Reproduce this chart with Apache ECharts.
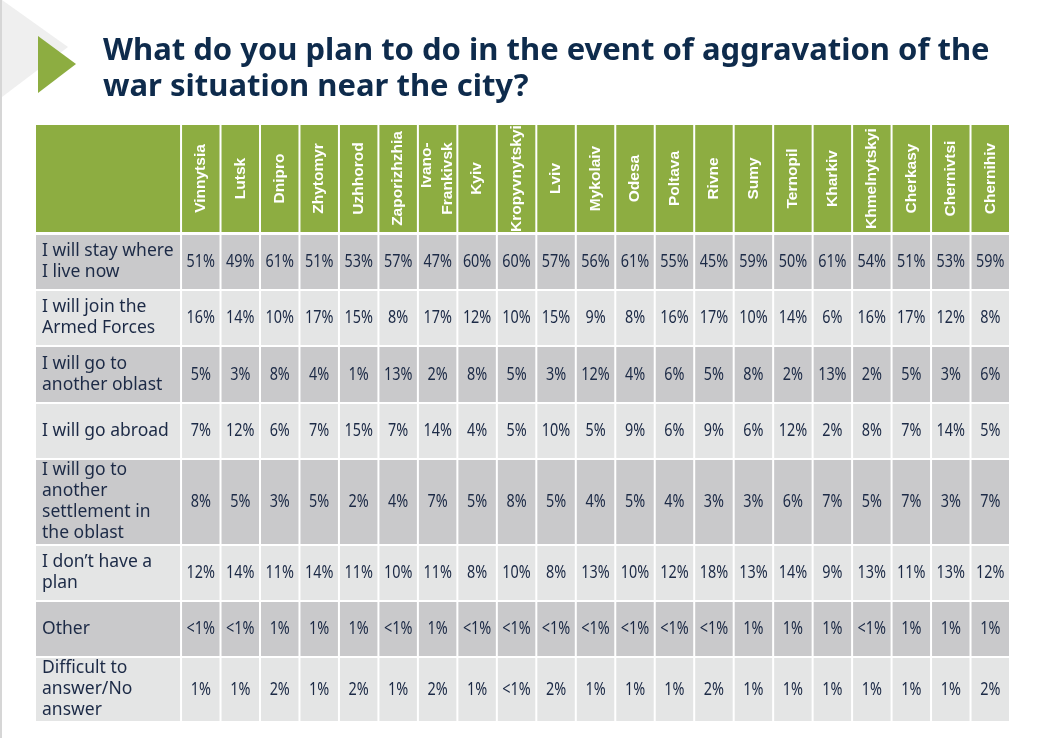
<!DOCTYPE html>
<html>
<head>
<meta charset="utf-8">
<script src="https://cdn.jsdelivr.net/npm/echarts@6/dist/echarts.min.js"></script>
<style>
html, body { margin: 0; padding: 0; background: #fff; }
#chart { width: 1052px; height: 738px; }
</style>
</head>
<body>
<div id="chart"></div>
<script>
var cities = ['Vinnytsia', 'Lutsk', 'Dnipro', 'Zhytomyr', 'Uzhhorod', 'Zaporizhzhia', 'Ivano-\nFrankivsk', 'Kyiv',
	'Kropyvnytskyi', 'Lviv', 'Mykolaiv', 'Odesa', 'Poltava', 'Rivne', 'Sumy', 'Ternopil', 'Kharkiv',
	'Khmelnytskyi', 'Cherkasy', 'Chernivtsi', 'Chernihiv'];
var answers = ['I will stay where\nI live now', 'I will join the\nArmed Forces', 'I will go to\nanother oblast',
	'I will go abroad', 'I will go to\nanother\nsettlement in\nthe oblast', 'I don\u2019t have a\nplan', 'Other',
	'Difficult to\nanswer/No\nanswer'];

// percentages per answer, one value per city
var stay = [51, 49, 61, 51, 53, 57, 47, 60, 60, 57, 56, 61, 55, 45, 59, 50, 61, 54, 51, 53, 59];
var joinArmy = [16, 14, 10, 17, 15, 8, 17, 12, 10, 15, 9, 8, 16, 17, 10, 14, 6, 16, 17, 12, 8];
var otherOblast = [5, 3, 8, 4, 1, 13, 2, 8, 5, 3, 12, 4, 6, 5, 8, 2, 13, 2, 5, 3, 6];
var abroad = [7, 12, 6, 7, 15, 7, 14, 4, 5, 10, 5, 9, 6, 9, 6, 12, 2, 8, 7, 14, 5];
var otherSettlement = [8, 5, 3, 5, 2, 4, 7, 5, 8, 5, 4, 5, 4, 3, 3, 6, 7, 5, 7, 3, 7];
var noPlan = [12, 14, 11, 14, 11, 10, 11, 8, 10, 8, 13, 10, 12, 18, 13, 14, 9, 13, 11, 13, 12];
var other = ['<1', '<1', 1, 1, 1, '<1', 1, '<1', '<1', '<1', '<1', '<1', '<1', '<1', 1, 1, 1, '<1', 1, 1, 1];
var difficult = [1, 1, 2, 1, 2, 1, 2, 1, '<1', 2, 1, 1, 1, 2, 1, 1, 1, 1, 1, 1, 2];

var rows = [stay, joinArmy, otherOblast, abroad, otherSettlement, noPlan, other, difficult];

// layout: width of the label column in city-column units, and row edges (header + 8 rows)
var labelUnits = 3.7;
var rowEdges = [0, 110, 166, 222, 279, 335, 421, 477, 533, 598];

var green = '#8DAD41';
var dark = '#1C2A46';
var headFont = 'bold 15.5px "Liberation Sans"';

var measure = document.createElement('canvas').getContext('2d');
measure.font = headFont;

var cells = [];
cells.push({ kind: 'corner', text: '', col: -1, row: -1 });
cities.forEach(function (c, i) {
	cells.push({ kind: 'head', text: c, col: i, row: -1 });
});
answers.forEach(function (a, r) {
	cells.push({ kind: 'label', text: a, col: -1, row: r });
	rows[r].forEach(function (v, i) {
		cells.push({ kind: 'value', text: v + '%', col: i, row: r });
	});
});

function renderCell(params, api) {
	var c = cells[params.dataIndex];
	var col = api.value(0), row = api.value(1);
	var x0 = col < 0 ? 0 : labelUnits + col;
	var x1 = col < 0 ? labelUnits : labelUnits + col + 1;
	var p0 = api.coord([x0, rowEdges[row + 1]]);
	var p1 = api.coord([x1, rowEdges[row + 2]]);
	var x = p0[0] + 1, y = p0[1] + 1;
	var w = p1[0] - p0[0] - 2, h = p1[1] - p0[1] - 2;
	if (row < 0) h -= 1;
	var fill = row < 0 ? green : (row % 2 === 0 ? '#C9C9CB' : '#E4E5E5');
	var children = [{ type: 'rect', shape: { x: x, y: y, width: w, height: h }, style: { fill: fill } }];
	if (c.kind === 'head') {
		// lines share their top end, the block is centred in the cell
		var maxW = Math.max.apply(null, c.text.split('\n').map(function (l) {
			return measure.measureText(l).width;
		}));
		children.push({
			type: 'text', x: x + w / 2, y: y + h / 2, rotation: Math.PI / 2,
			style: {
				text: c.text, x: maxW / 2, y: 0, fill: '#fff', font: headFont,
				lineHeight: 21, align: 'right', verticalAlign: 'middle'
			}
		});
	} else if (c.kind === 'label') {
		children.push({
			type: 'text', x: x + 6, y: y + h / 2,
			style: {
				text: c.text, fill: dark, fontFamily: 'Noto Sans', fontSize: 17.5,
				lineHeight: 21, align: 'left', verticalAlign: 'middle'
			}
		});
	} else if (c.kind === 'value') {
		children.push({
			type: 'text', x: x + w / 2, y: y + h / 2, scaleX: 0.8,
			style: {
				text: c.text, fill: dark, fontFamily: 'Noto Sans', fontSize: 18,
				align: 'center', verticalAlign: 'middle'
			}
		});
	}
	return { type: 'group', children: children };
}

var chart = echarts.init(document.getElementById('chart'));
chart.setOption({
	backgroundColor: '#fff',
	animation: false,
	title: {
		text: 'What do you plan to do in the event of aggravation of the\nwar situation near the city?',
		left: 103,
		top: 33,
		padding: 0,
		textStyle: {
			color: '#0E2B4C',
			fontFamily: 'Noto Sans',
			fontWeight: 'bold',
			fontSize: 31,
			lineHeight: 36
		}
	},
	graphic: [
		{ type: 'rect', left: 0, top: 0, shape: { width: 2, height: 738 }, style: { fill: '#D6D6D6' } },
		{ type: 'polygon', shape: { points: [[2, 0], [68, 47], [2, 97]] }, style: { fill: '#EFEFEF' } },
		{ type: 'polygon', shape: { points: [[38, 36], [76, 64], [38, 93]] }, style: { fill: green } }
	],
	grid: { left: 35, right: 42, top: 124, bottom: 16 },
	xAxis: { type: 'value', min: 0, max: labelUnits + cities.length, show: false },
	yAxis: { type: 'value', min: 0, max: rowEdges[rowEdges.length - 1], inverse: true, show: false },
	series: [{
		type: 'custom',
		silent: true,
		renderItem: renderCell,
		encode: { x: 0, y: 1 },
		data: cells.map(function (c) { return [c.col, c.row]; })
	}]
});
</script>
</body>
</html>
